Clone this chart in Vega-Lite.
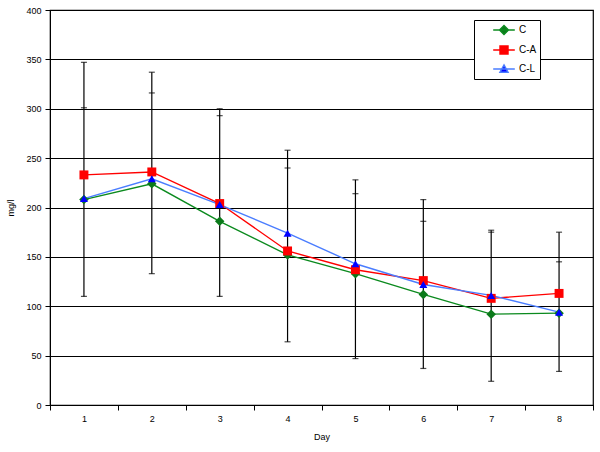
{
  "$schema": "https://vega.github.io/schema/vega-lite/v6.json",
  "width": 543,
  "height": 395,
  "autosize": {"type": "none"},
  "padding": {"left": 50, "top": 10, "right": 7, "bottom": 47},
  "background": "white",
  "config": {
    "view": {"stroke": "black", "strokeWidth": 1.2},
    "font": "Liberation Sans",
    "axis": {
      "domainColor": "black",
      "tickColor": "black",
      "tickSize": 5,
      "labelFontSize": 9,
      "titleFontSize": 9,
      "titleFontWeight": "normal",
      "labelColor": "black",
      "titleColor": "black"
    },
    "legend": {
      "title": null,
      "orient": "none",
      "legendX": 424,
      "legendY": 10,
      "padding": 3,
      "strokeColor": "black",
      "fillColor": "white",
      "symbolSize": 144,
      "symbolOffset": 20,
      "symbolStrokeWidth": 1.4,
      "labelFontSize": 10,
      "labelColor": "black",
      "rowPadding": 5,
      "labelOffset": 8
    }
  },
  "datasets": {
    "means": [
      {"day": "1", "series": "C", "value": 208},
      {"day": "2", "series": "C", "value": 224},
      {"day": "3", "series": "C", "value": 186},
      {"day": "4", "series": "C", "value": 152},
      {"day": "5", "series": "C", "value": 133},
      {"day": "6", "series": "C", "value": 112},
      {"day": "7", "series": "C", "value": 92},
      {"day": "8", "series": "C", "value": 93},
      {"day": "1", "series": "C-A", "value": 233},
      {"day": "2", "series": "C-A", "value": 236},
      {"day": "3", "series": "C-A", "value": 204},
      {"day": "4", "series": "C-A", "value": 156},
      {"day": "5", "series": "C-A", "value": 137},
      {"day": "6", "series": "C-A", "value": 126},
      {"day": "7", "series": "C-A", "value": 108},
      {"day": "8", "series": "C-A", "value": 113},
      {"day": "1", "series": "C-L", "value": 209},
      {"day": "2", "series": "C-L", "value": 229},
      {"day": "3", "series": "C-L", "value": 203},
      {"day": "4", "series": "C-L", "value": 174},
      {"day": "5", "series": "C-L", "value": 143},
      {"day": "6", "series": "C-L", "value": 122},
      {"day": "7", "series": "C-L", "value": 111},
      {"day": "8", "series": "C-L", "value": 94}
    ],
    "err": [
      {"day": "1", "lo": 110, "hi": 347, "hi2": 301},
      {"day": "2", "lo": 133, "hi": 337, "hi2": 316},
      {"day": "3", "lo": 110, "hi": 300, "hi2": 293},
      {"day": "4", "lo": 64, "hi": 258, "hi2": 240},
      {"day": "5", "lo": 47, "hi": 228, "hi2": 214},
      {"day": "6", "lo": 37, "hi": 208, "hi2": 186},
      {"day": "7", "lo": 24, "hi": 177, "hi2": 175},
      {"day": "8", "lo": 34, "hi": 175, "hi2": 145}
    ]
  },
  "encoding": {
    "x": {
      "field": "day",
      "type": "ordinal",
      "scale": {"type": "band", "paddingInner": 0, "paddingOuter": 0},
      "axis": {
        "title": "Day",
        "labelAngle": 0,
        "tickBand": "extent",
        "grid": false,
        "labelPadding": 4,
        "titlePadding": 9
      }
    }
  },
  "layer": [
    {
      "data": {"name": "err"},
      "mark": {"type": "rule", "color": "black", "strokeWidth": 1.2},
      "encoding": {
        "y": {
          "field": "lo",
          "type": "quantitative",
          "scale": {"domain": [0, 400]},
          "axis": {
            "title": "mg/l",
            "values": [0, 50, 100, 150, 200, 250, 300, 350, 400],
            "grid": true,
            "gridColor": "black",
            "gridOpacity": 1,
            "gridWidth": 1.2,
            "labelPadding": 4,
            "titlePadding": 10
          }
        },
        "y2": {"field": "hi"}
      }
    },
    {
      "data": {"name": "err"},
      "transform": [{"fold": ["lo", "hi", "hi2"], "as": ["cap", "capValue"]}],
      "mark": {"type": "tick", "color": "black", "size": 6, "thickness": 1.2},
      "encoding": {
        "y": {"field": "capValue", "type": "quantitative", "scale": {"domain": [0, 400]}}
      }
    },
    {
      "data": {"name": "means"},
      "mark": {"type": "line", "strokeWidth": 1.4},
      "encoding": {
        "y": {"field": "value", "type": "quantitative", "scale": {"domain": [0, 400]}},
        "stroke": {
          "field": "series",
          "type": "nominal",
          "scale": {"domain": ["C", "C-A", "C-L"], "range": ["#0b8a1e", "#ff0000", "#4a7dff"]},
          "legend": {
            "encode": {
              "symbols": {
                "update": {
                  "shape": {"signal": "datum.value === 'C' ? 'M-1.8,0H1.8M0,-0.75L0.75,0L0,0.75L-0.75,0Z' : datum.value === 'C-A' ? 'M-1.8,0H1.8M-0.67,-0.67H0.67V0.67H-0.67Z' : 'M-1.8,0H1.8M0,-0.68L0.68,0.55H-0.68Z'"}
                }
              }
            }
          }
        }
      }
    },
    {
      "data": {"name": "means"},
      "transform": [{"filter": "datum.series === 'C'"}],
      "mark": {"type": "point", "filled": true, "opacity": 1, "size": 90, "shape": "diamond"},
      "encoding": {
        "y": {"field": "value", "type": "quantitative", "scale": {"domain": [0, 400]}},
        "color": {
          "field": "series",
          "type": "nominal",
          "scale": {"domain": ["C", "C-A", "C-L"], "range": ["#0b7a1a", "#ff0000", "#0000ff"]},
          "legend": {
            "encode": {
              "symbols": {
                "update": {
                  "shape": {"signal": "datum.value === 'C' ? 'M-1.8,0H1.8M0,-0.75L0.75,0L0,0.75L-0.75,0Z' : datum.value === 'C-A' ? 'M-1.8,0H1.8M-0.67,-0.67H0.67V0.67H-0.67Z' : 'M-1.8,0H1.8M0,-0.68L0.68,0.55H-0.68Z'"}
                }
              }
            }
          }
        }
      }
    },
    {
      "data": {"name": "means"},
      "transform": [{"filter": "datum.series === 'C-A'"}],
      "mark": {"type": "point", "filled": true, "opacity": 1, "size": 80, "shape": "square"},
      "encoding": {
        "y": {"field": "value", "type": "quantitative", "scale": {"domain": [0, 400]}},
        "color": {"field": "series", "type": "nominal"}
      }
    },
    {
      "data": {"name": "means"},
      "transform": [{"filter": "datum.series === 'C-L'"}],
      "mark": {"type": "point", "filled": true, "opacity": 1, "size": 65, "shape": "triangle-up"},
      "encoding": {
        "y": {"field": "value", "type": "quantitative", "scale": {"domain": [0, 400]}},
        "color": {"field": "series", "type": "nominal"}
      }
    }
  ]
}
